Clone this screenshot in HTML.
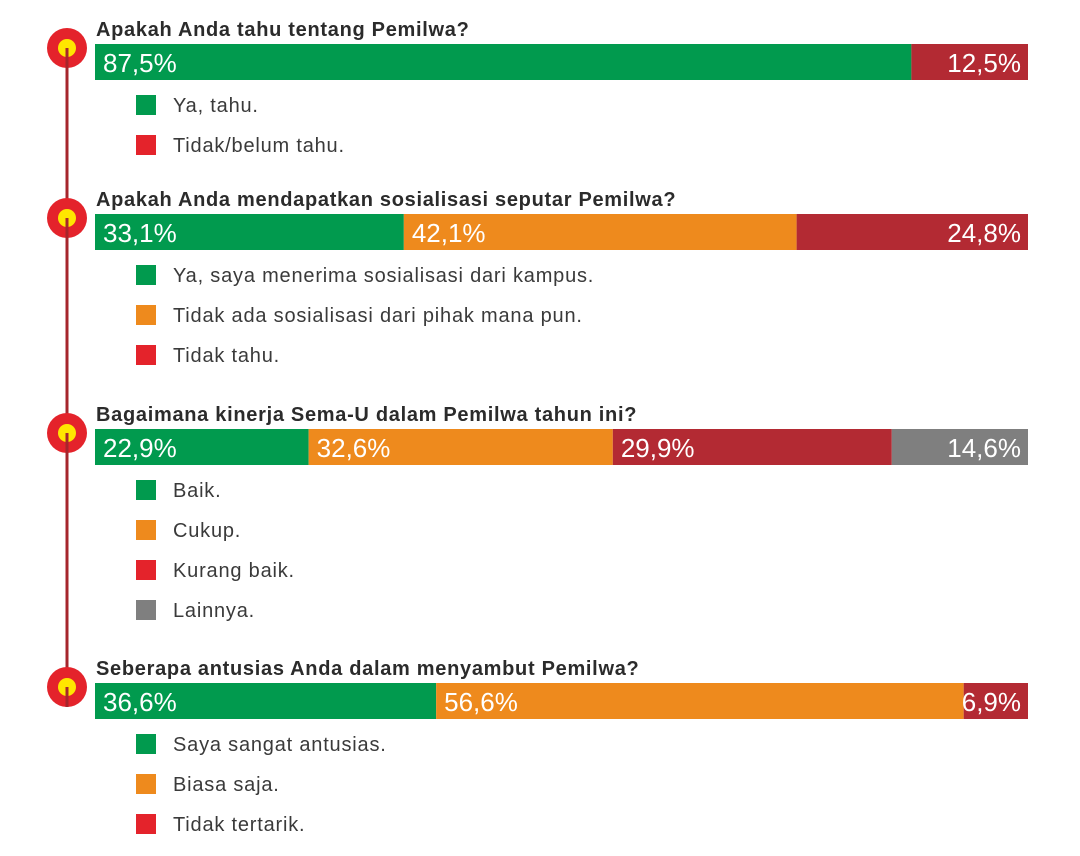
<!DOCTYPE html>
<html><head><meta charset="utf-8"><style>
body{margin:0;width:1080px;height:856px;background:#fff;overflow:hidden;font-family:"Liberation Sans",sans-serif}
#c{position:absolute;left:0;top:0}
</style></head><body>
<svg id="c" width="1080" height="856"></svg>
<script>
const questions=["Apakah Anda tahu tentang Pemilwa?","Apakah Anda mendapatkan sosialisasi seputar Pemilwa?","Bagaimana kinerja Sema-U dalam Pemilwa tahun ini?","Seberapa antusias Anda dalam menyambut Pemilwa?"];
const values=[[87.5,12.5],[33.1,42.1,24.8],[22.9,32.6,29.9,14.6],[36.6,56.6,6.9]];
const valueLabels=[["87,5%","12,5%"],["33,1%","42,1%","24,8%"],["22,9%","32,6%","29,9%","14,6%"],["36,6%","56,6%","6,9%"]];
const categories=[["Ya, tahu.","Tidak/belum tahu."],["Ya, saya menerima sosialisasi dari kampus.","Tidak ada sosialisasi dari pihak mana pun.","Tidak tahu."],["Baik.","Cukup.","Kurang baik.","Lainnya."],["Saya sangat antusias.","Biasa saja.","Tidak tertarik."]];
const colorKeys=[["g","r"],["g","o","r"],["g","o","r","k"],["g","o","r"]];
const barCol={g:"#019a4e",o:"#ee8a1d",r:"#b32a33",k:"#7f7f7f"};
const legCol={g:"#019a4e",o:"#ee8a1d",r:"#e4232b",k:"#7f7f7f"};
const barTops=[44,214,429,683];
const X0=95,X1=1028,BH=36;
const svg=document.getElementById('c');
const NS="http://www.w3.org/2000/svg";
function mk(t,a,p){const e=document.createElementNS(NS,t);for(const k in a)e.setAttribute(k,a[k]);(p||svg).appendChild(e);return e;}
const line=mk('line',{x1:67,y1:50,x2:67,y2:685,stroke:"#a6262c","stroke-width":3});


questions.forEach((q,i)=>{
  const top=barTops[i];
  const g=mk('g',{});
  
  
  const cy=top+4;
  const outer=mk('circle',{cx:67,cy:cy,r:20,fill:"#e4232b"},g);
  
  
  mk('circle',{cx:67,cy:cy,r:9,fill:"#ffe600"},g);
  mk('line',{x1:67,y1:cy,x2:67,y2:cy+20,stroke:"#a6262c","stroke-width":3},g);
  const t=mk('text',{x:96,y:top-8,"font-size":20,"letter-spacing":0.7,"font-weight":"bold",fill:"#2b2b2b"},g);
  t.textContent=q;
  
  
  const vals=values[i];const tot=vals.reduce((a,b)=>a+b,0);
  const sx=v=>X0+(X1-X0)*v/tot;
  let acc=0;
  vals.forEach((v,j)=>{
    const xa=sx(acc),xb=sx(acc+v);acc+=v;
    const r=mk('rect',{x:xa,y:top,width:xb-xa,height:BH,fill:barCol[colorKeys[i][j]]},g);
    
    
    const last=j===vals.length-1;
    const lt=mk('text',{x:last?X1-7:xa+8,y:top+28,"font-size":26,fill:"#fff","text-anchor":last?"end":"start"},g);
    lt.textContent=valueLabels[i][j];
    
    
    const ly=top+61+j*40;
    const sq=mk('rect',{x:136,y:ly-10,width:20,height:20,fill:legCol[colorKeys[i][j]]},g);
    
    
    const tx=mk('text',{x:173,y:ly+7,"font-size":20,"letter-spacing":0.8,fill:"#3a3a3a"},g);
    tx.textContent=categories[i][j];
    
    
  });
});
</script>
</body></html>
